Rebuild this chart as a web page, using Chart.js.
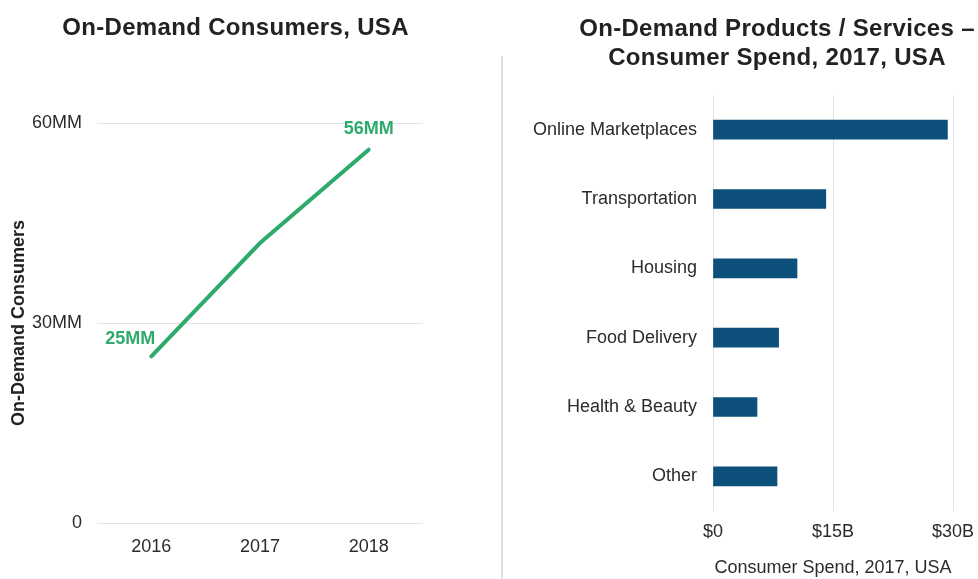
<!DOCTYPE html>
<html>
<head>
<meta charset="utf-8">
<script src="https://cdn.jsdelivr.net/npm/chart.js@4.4.1/dist/chart.umd.min.js"></script>
<style>
  body { margin: 0; background: #fff; width: 978px; height: 579px; overflow: hidden; position: relative;
         font-family: "Liberation Sans", Arial, sans-serif; }
  #leftBox { position: absolute; left: 0; top: 0; width: 471px; height: 579px; }
  #rightBox { position: absolute; left: 510px; top: 0; width: 468px; height: 579px; }
  #divider { position: absolute; left: 501px; top: 56px; width: 2px; height: 523px; background: #dedede; }
  .title { position: absolute; text-align: center; font-weight: bold; font-size: 24px; line-height: 28.8px;
           letter-spacing: 0.33px; color: #222; }
  #leftTitle { left: 0; top: 13px; width: 471px; }
  #rightTitle { left: 576px; top: 14px; width: 402px; }
</style>
</head>
<body>
<div id="leftBox"><canvas id="consumers"></canvas></div>
<div id="divider"></div>
<div id="rightBox"><canvas id="spend"></canvas></div>
<div class="title" id="leftTitle">On-Demand Consumers, USA</div>
<div class="title" id="rightTitle">On-Demand Products / Services &ndash;<br>Consumer Spend, 2017, USA</div>
<script>
// left chart data
const years = ['2016', '2017', '2018'];
const consumers = [25, 42, 56];
const consumerLabels = ['25MM', '', '56MM'];
const consumerTicks = ['0', '30MM', '60MM'];

// right chart data
const categories = ['Online Marketplaces', 'Transportation', 'Housing', 'Food Delivery', 'Health & Beauty', 'Other'];
const spend = [29.3, 14.1, 10.5, 8.2, 5.5, 8.0];
const spendTicks = ['$0', '$15B', '$30B'];

const FONT = '"Liberation Sans", Arial, sans-serif';
const GREEN = '#2eaa6c';
const NAVY = '#0d4f7b';
const GRID = '#e2e2e2';
const TEXT = '#2b2b2b';

Chart.defaults.font.family = FONT;
Chart.defaults.color = TEXT;
Chart.defaults.animation = false;

// draw the MM labels next to the first and last points
const pointLabels = {
  id: 'pointLabels',
  afterDatasetsDraw(chart) {
    const ctx = chart.ctx;
    const meta = chart.getDatasetMeta(0);
    ctx.save();
    ctx.font = 'bold 18px ' + FONT;
    ctx.fillStyle = GREEN;
    ctx.textAlign = 'center';
    ctx.textBaseline = 'middle';
    meta.data.forEach((pt, i) => {
      if (!consumerLabels[i]) return;
      const dx = i === 0 ? -21 : 0;
      const dy = i === 0 ? -17 : -21;
      ctx.fillText(consumerLabels[i], pt.x + dx, pt.y + dy);
    });
    ctx.restore();
  }
};

new Chart(document.getElementById('consumers'), {
  type: 'line',
  data: {
    labels: years,
    datasets: [{
      data: consumers,
      borderColor: GREEN,
      borderWidth: 4,
      borderCapStyle: 'round',
      pointRadius: 0,
      tension: 0
    }]
  },
  options: {
    responsive: true,
    maintainAspectRatio: false,
    layout: { padding: { left: 0, right: 48, top: 123, bottom: 0 } },
    plugins: {
      legend: { display: false },
      tooltip: { enabled: false }
    },
    scales: {
      x: {
        offset: true,
        grid: { display: false, drawTicks: false },
        border: { display: false },
        ticks: { font: { size: 18 }, padding: 13 },
        afterFit(scale) { scale.height = 56; }
      },
      y: {
        min: 0,
        max: 60,
        ticks: {
          stepSize: 30,
          font: { size: 18 },
          padding: 15,
          callback: (v, i) => consumerTicks[i]
        },
        grid: { color: GRID, drawTicks: false },
        border: { display: false },
        title: {
          display: true,
          text: 'On-Demand Consumers',
          font: { size: 18, weight: 'bold' },
          color: '#222',
          padding: { top: 8, bottom: 0 }
        },
        afterFit(scale) { scale.width = 97; }
      }
    }
  },
  plugins: [pointLabels]
});

new Chart(document.getElementById('spend'), {
  type: 'bar',
  data: {
    labels: categories,
    datasets: [{
      data: spend,
      backgroundColor: NAVY,
      barThickness: 19
    }]
  },
  options: {
    indexAxis: 'y',
    responsive: true,
    maintainAspectRatio: false,
    layout: { padding: { left: 0, right: 25, top: 95, bottom: 0 } },
    plugins: {
      legend: { display: false },
      tooltip: { enabled: false }
    },
    scales: {
      x: {
        min: 0,
        max: 30,
        ticks: {
          stepSize: 15,
          font: { size: 18 },
          padding: 0,
          callback: (v, i) => spendTicks[i]
        },
        grid: { color: GRID, drawTicks: true, tickLength: 10, tickColor: 'rgba(0,0,0,0)' },
        border: { display: false },
        title: {
          display: true,
          text: 'Consumer Spend, 2017, USA',
          font: { size: 18 },
          padding: { top: 0, bottom: 0 }
        },
        afterFit(scale) { scale.height = 68; }
      },
      y: {
        grid: { display: false, drawTicks: false },
        border: { display: false },
        ticks: { font: { size: 18 }, padding: 16 },
        afterFit(scale) { scale.width = 203; }
      }
    }
  }
});
</script>
</body>
</html>
